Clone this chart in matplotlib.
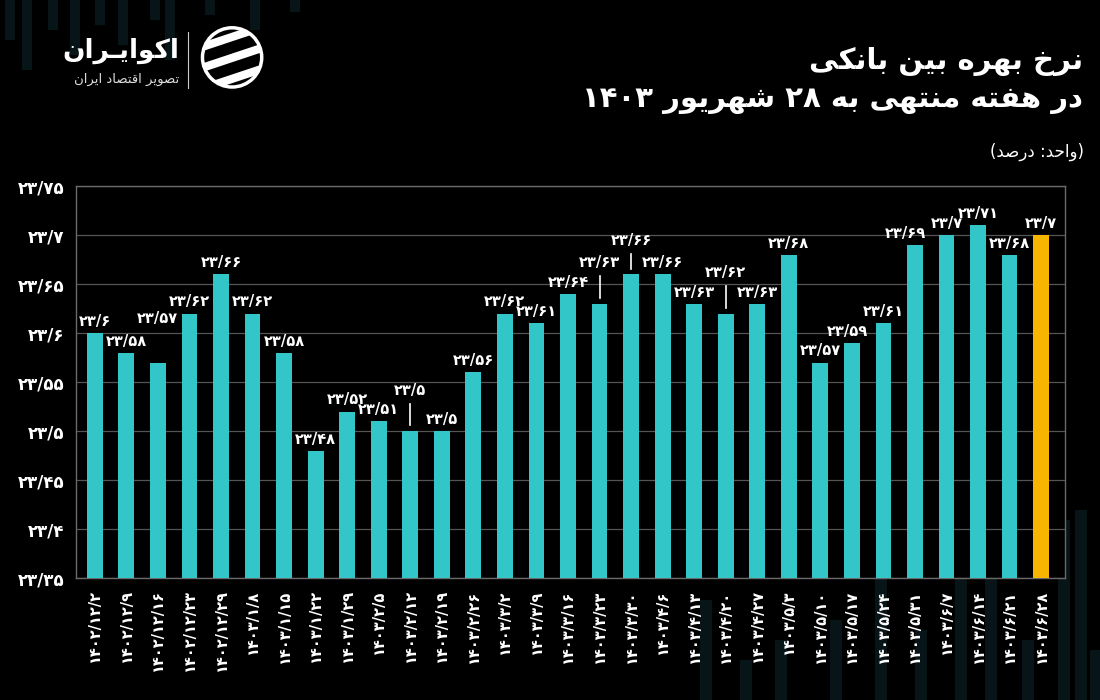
import re
import matplotlib
matplotlib.use("Agg")
import matplotlib.pyplot as plt
from matplotlib.patches import Rectangle, Circle, Polygon
import numpy as np

# ---------------- data ----------------
dates = ["1402/12/2", "1402/12/9", "1402/12/16", "1402/12/23", "1402/12/29",
         "1403/1/8", "1403/1/15", "1403/1/22", "1403/1/29", "1403/2/5",
         "1403/2/12", "1403/2/19", "1403/2/26", "1403/3/2", "1403/3/9",
         "1403/3/16", "1403/3/23", "1403/3/30", "1403/4/6", "1403/4/13",
         "1403/4/20", "1403/4/27", "1403/5/3", "1403/5/10", "1403/5/17",
         "1403/5/24", "1403/5/31", "1403/6/7", "1403/6/14", "1403/6/21",
         "1403/6/28"]
rates = [23.60, 23.58, 23.57, 23.62, 23.66,
         23.62, 23.58, 23.48, 23.52, 23.51,
         23.50, 23.50, 23.56, 23.62, 23.61,
         23.64, 23.63, 23.66, 23.66, 23.63,
         23.62, 23.63, 23.68, 23.57, 23.59,
         23.61, 23.69, 23.70, 23.71, 23.68,
         23.70]
y_ticks = [23.35, 23.40, 23.45, 23.50, 23.55, 23.60, 23.65, 23.70, 23.75]

# label lift (data units), horizontal nudge (points) and leader lines
label_lift = [0] * len(rates)
label_dx = [0] * len(rates)
leader = [False] * len(rates)
label_lift[2] = 0.033
for i, lift in [(10, 0.030), (16, 0.030), (17, 0.023), (20, 0.030)]:
    label_lift[i] = lift
    leader[i] = True
label_dx[26] = -7
label_dx[24] = -3

TEAL = "#33C6C8"
GOLD = "#F7B500"
BG = "#000000"
DECO = "#071519"

# ------------- minimal Persian shaping -------------
FORMS = {
    'ا': ('\uFE8D', '\uFE8E', None, None),
    'ب': ('\uFE8F', '\uFE90', '\uFE91', '\uFE92'),
    'ت': ('\uFE95', '\uFE96', '\uFE97', '\uFE98'),
    'ح': ('\uFEA1', '\uFEA2', '\uFEA3', '\uFEA4'),
    'خ': ('\uFEA5', '\uFEA6', '\uFEA7', '\uFEA8'),
    'د': ('\uFEA9', '\uFEAA', None, None),
    'ر': ('\uFEAD', '\uFEAE', None, None),
    'ش': ('\uFEB5', '\uFEB6', '\uFEB7', '\uFEB8'),
    'ص': ('\uFEB9', '\uFEBA', '\uFEBB', '\uFEBC'),
    'ف': ('\uFED1', '\uFED2', '\uFED3', '\uFED4'),
    'ق': ('\uFED5', '\uFED6', '\uFED7', '\uFED8'),
    'م': ('\uFEE1', '\uFEE2', '\uFEE3', '\uFEE4'),
    'ن': ('\uFEE5', '\uFEE6', '\uFEE7', '\uFEE8'),
    'ه': ('\uFEE9', '\uFEEA', '\uFEEB', '\uFEEC'),
    'و': ('\uFEED', '\uFEEE', None, None),
    'ک': ('\uFB8E', '\uFB8F', '\uFB90', '\uFB91'),
    'ی': ('\uFBFC', '\uFBFD', '\uFBFE', '\uFBFF'),
    'ـ': ('\u0640', '\u0640', '\u0640', '\u0640'),
}
MIRROR = {'(': ')', ')': '('}
FA_DIGITS = str.maketrans("0123456789.", "۰۱۲۳۴۵۶۷۸۹/")


def shape(s):
    out = []
    for i, c in enumerate(s):
        if c not in FORMS:
            out.append(c)
            continue
        prev = s[i - 1] if i > 0 else None
        nxt = s[i + 1] if i < len(s) - 1 else None
        iso, fin, ini, med = FORMS[c]
        jp = prev in FORMS and FORMS[prev][2] is not None
        jn = nxt in FORMS and ini is not None
        if jp and jn:
            out.append(med)
        elif jp:
            out.append(fin)
        elif jn:
            out.append(ini)
        else:
            out.append(iso)
    return ''.join(out)


def rtl(s):
    s = shape(s)
    runs = re.findall(r'[0-9۰-۹/]+|[^0-9۰-۹/]+', s)
    out = []
    for r in reversed(runs):
        if re.match(r'[0-9۰-۹]', r):
            out.append(r)
        else:
            out.append(''.join(MIRROR.get(c, c) for c in reversed(r)))
    return ''.join(out)


def fa_num(v):
    t = f"{v:.2f}".rstrip('0').rstrip('.')
    return t.translate(FA_DIGITS)


plt.rcParams['font.family'] = ['DejaVu Sans']

fig = plt.figure(figsize=(11, 7), dpi=100, facecolor=BG)

# background decoration (faint bars)
deco = fig.add_axes([0, 0, 1, 1], zorder=-5)
deco.set_xlim(0, 1100)
deco.set_ylim(700, 0)
deco.axis('off')
deco.set_facecolor(BG)
for x0, h in [(5, 40), (22, 70), (48, 30), (70, 55), (95, 25), (118, 45), (150, 20),
              (165, 60), (205, 15), (250, 30), (290, 12)]:
    deco.add_patch(Rectangle((x0, 0), 10, h, color=DECO, lw=0))
for x0, top in [(700, 600), (740, 660), (775, 640), (830, 620), (875, 540), (915, 630),
                (955, 560), (985, 510), (1022, 640), (1058, 520), (1075, 510), (1090, 650)]:
    deco.add_patch(Rectangle((x0, top), 12, 700 - top, color=DECO, lw=0))

# ------------- main axes -------------
ax = fig.add_axes([0.069, 0.174, 0.899, 0.560], facecolor=BG)
x = np.arange(len(rates))
colors = [TEAL] * (len(rates) - 1) + [GOLD]
base = y_ticks[0]
ax.bar(x, np.array(rates) - base, bottom=base, width=0.5, color=colors, zorder=3)

ax.set_ylim(y_ticks[0], y_ticks[-1])
ax.set_xlim(-0.6, len(rates) - 0.25)
ax.set_yticks(y_ticks)
ax.set_yticklabels([fa_num(v) for v in y_ticks], color="white", fontsize=12,
                   fontweight="bold")
ax.set_xticks(x)
ax.set_xticklabels([d.translate(FA_DIGITS) for d in dates], rotation=90, color="white",
                   fontsize=10.5, fontweight="bold")
ax.tick_params(axis='both', length=0, pad=8)
ax.grid(axis='y', color="#555555", lw=0.9, zorder=0)
for sp in ax.spines.values():
    sp.set_color("#6a6a6a")
    sp.set_linewidth(1.0)

for i, v in enumerate(rates):
    ly = v + label_lift[i]
    ax.annotate(fa_num(v), (i, ly), xytext=(label_dx[i], 3), textcoords="offset points",
                ha="center", va="bottom", color="white", fontsize=10.5,
                fontweight="bold", zorder=5)
    if leader[i]:
        ax.plot([i, i], [v + 0.006, ly - 0.002], color="white", lw=1.2, zorder=4)

# ------------- titles -------------
fig.text(0.985, 0.912, rtl("نرخ بهره بین بانکی"), ha="right", va="center",
         color="white", fontsize=21, fontweight="bold")
fig.text(0.985, 0.857, rtl("در هفته منتهی به ۲۸ شهریور ۱۴۰۳"), ha="right",
         va="center", color="white", fontsize=21, fontweight="bold")
fig.text(0.985, 0.783, rtl("(واحد: درصد)"), ha="right", va="center",
         color="white", fontsize=12)

# ------------- logo -------------
fig.text(0.163, 0.928, rtl("اکوایـران"), ha="right", va="center", color="white",
         fontsize=19, fontweight="bold")
fig.text(0.163, 0.887, rtl("تصویر اقتصاد ایران"), ha="right", va="center",
         color="#dddddd", fontsize=9.5)
fig.add_artist(plt.Line2D([0.171, 0.171], [0.875, 0.955], color="#cccccc", lw=0.8))

logo = fig.add_axes([0.180, 0.872, 0.062, 0.092])
logo.set_xlim(-1, 1)
logo.set_ylim(-1, 1)
logo.set_aspect('equal')
logo.axis('off')
clip = Circle((0, 0), 0.95, transform=logo.transData)
for off in [-0.75, -0.1, 0.55]:
    poly = Polygon([(-1.2, off - 0.45), (1.2, off + 0.35), (1.2, off + 0.62), (-1.2, off - 0.18)],
                   closed=True, color="white", lw=0)
    logo.add_patch(poly)
    poly.set_clip_path(clip)
ring = Circle((0, 0), 0.92, fill=False, ec="white", lw=2.5)
logo.add_patch(ring)

fig.savefig("out.png", dpi=100, facecolor=BG)
